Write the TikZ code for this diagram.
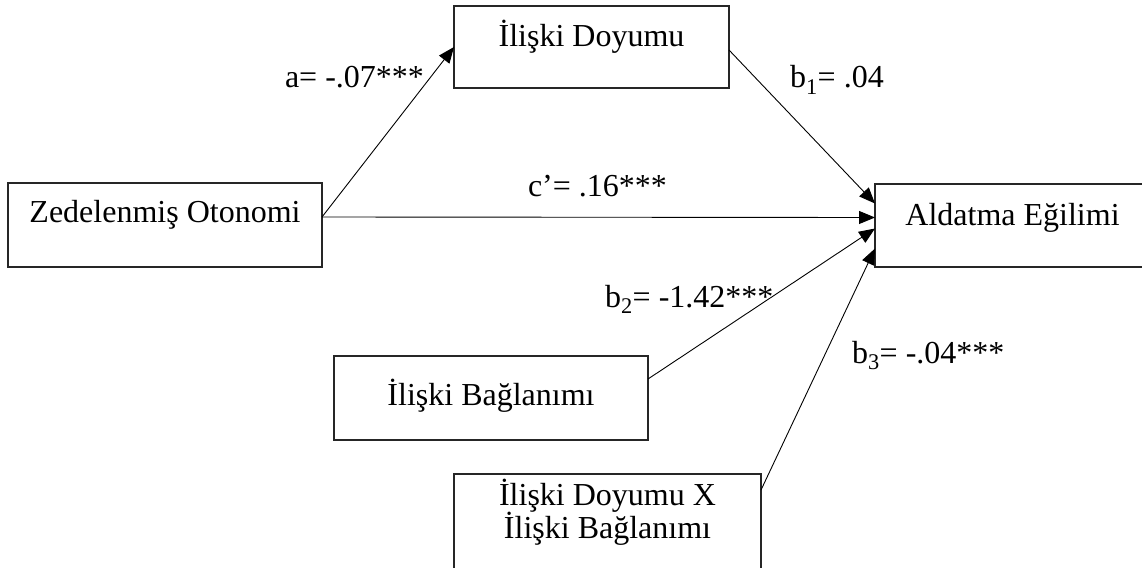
\documentclass[tikz,border=0pt]{standalone}
\usepackage{fontspec}
\setmainfont{Liberation Serif}
\usetikzlibrary{arrows.meta}
\begin{document}
\begin{tikzpicture}[x=1pt,y=-1pt,
  every node/.style={font=\fontsize{32}{36}\selectfont, inner sep=0pt, outer sep=0pt},
  box/.style={draw=black!85, line width=1.2pt, rectangle, anchor=north west, inner sep=0pt},
  lbl/.style={anchor=base west},
  txt/.style={anchor=base},
  conn/.style={line width=0.9pt, -{Triangle[length=16pt,width=13pt]}}]
\useasboundingbox (0,0) rectangle (1142,567);
\clip (0,0) rectangle (1142,567);

% boxes
\node[box, minimum width=314pt, minimum height=84pt, text height=39pt, text depth=45pt] (zo) at (8,183) {Zedelenmiş Otonomi};
\node[box, minimum width=275pt, minimum height=82pt, text height=41pt, text depth=41pt] (id) at (454,6) {İlişki Doyumu};
\node[box, minimum width=275pt, minimum height=83pt, text height=41pt, text depth=42pt] (ad) at (875,184) {Aldatma Eğilimi};
\node[box, minimum width=314pt, minimum height=84pt, text height=49pt, text depth=35pt] (bl) at (334,356) {İlişki Bağlanımı};
\node[box, minimum width=307pt, minimum height=110pt] (ix) at (454,474) {};
\node[txt] (ixa) at (607.5,505) {İlişki Doyumu X};
\node[txt] (ixb) at (607.5,538) {İlişki Bağlanımı};

% connectors
\coordinate (zoout) at ([yshift=8pt]zo.east);
\draw[conn] (zoout) -- (id.west);
\draw[conn] (zoout) -- ([yshift=8pt]ad.west);
\draw[conn] ([yshift=-3pt]id.east) -- ([yshift=22pt]ad.west);
\draw[conn] ([yshift=-23pt]bl.north east) -- ([yshift=-3pt]ad.west);
\draw[conn] ([yshift=-16pt]ix.north east) -- ([yshift=-23pt]ad.west);

% labels
\node[lbl] (la) at (285,88) {a= -.07***};
\node[lbl] (lb1) at (790,88) {b\textsubscript{1}= .04};
\node[lbl] (lc) at (528,196) {c’= .16***};
\node[lbl] (lb2) at (605,307) {b\textsubscript{2}= -1.42***};
\node[lbl] (lb3) at (852,363) {b\textsubscript{3}= -.04***};
\end{tikzpicture}
\end{document}
